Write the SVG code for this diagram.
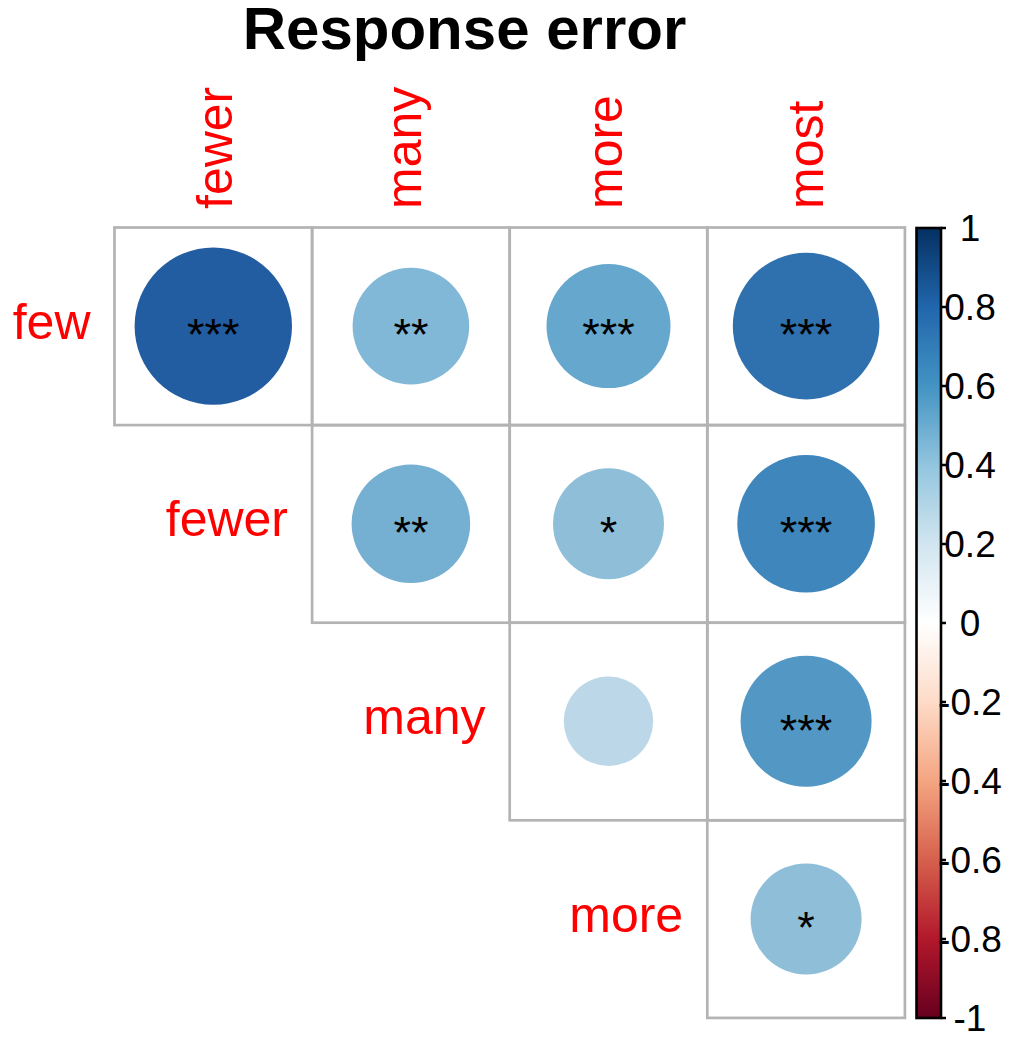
<svg xmlns="http://www.w3.org/2000/svg" width="1011" height="1037" viewBox="0 0 1011 1037">
<style>
.lab{font-family:"Liberation Sans",Arial,sans-serif;font-size:50px;fill:#ff0000}
.star{font-family:"Liberation Sans",Arial,sans-serif;font-size:45px;fill:#000;text-anchor:middle}
.tick{font-family:"Liberation Sans",Arial,sans-serif;font-size:37px;fill:#000;text-anchor:middle}
.cell{fill:none;stroke:#b3b3b3;stroke-width:2.7}
</style>
<defs>
<linearGradient id="rdbu" x1="0" y1="1" x2="0" y2="0">
<stop offset="0" stop-color="#67001F"/>
<stop offset="0.1" stop-color="#B2182B"/>
<stop offset="0.2" stop-color="#D6604D"/>
<stop offset="0.3" stop-color="#F4A582"/>
<stop offset="0.4" stop-color="#FDDBC7"/>
<stop offset="0.5" stop-color="#FFFFFF"/>
<stop offset="0.6" stop-color="#D1E5F0"/>
<stop offset="0.7" stop-color="#92C5DE"/>
<stop offset="0.8" stop-color="#4393C3"/>
<stop offset="0.9" stop-color="#2166AC"/>
<stop offset="1" stop-color="#053061"/>
</linearGradient>
</defs>
<rect width="1011" height="1037" fill="#fff"/>
<text x="464.5" y="49" style="font-family:'Liberation Sans',Arial,sans-serif;font-size:60px;font-weight:bold" text-anchor="middle">Response error</text>
<g id="col-labels">
<text class="lab" transform="translate(231.9,209) rotate(-90)">fewer</text>
<text class="lab" transform="translate(420.5,209) rotate(-90)">many</text>
<text class="lab" transform="translate(621.7,209) rotate(-90)">more</text>
<text class="lab" transform="translate(823.3,209) rotate(-90)">most</text>
</g>
<g id="row-labels" text-anchor="end">
<text class="lab" x="90.5" y="338.8">few</text>
<text class="lab" x="288" y="536.4">fewer</text>
<text class="lab" x="485.6" y="734">many</text>
<text class="lab" x="683.2" y="931.6">more</text>
</g>
<g id="grid">
<rect class="cell" x="114.5" y="227.5" width="197.6" height="197.6"/>
<rect class="cell" x="312.1" y="227.5" width="197.6" height="197.6"/>
<rect class="cell" x="509.7" y="227.5" width="197.6" height="197.6"/>
<rect class="cell" x="707.3" y="227.5" width="197.6" height="197.6"/>
<rect class="cell" x="312.1" y="425.1" width="197.6" height="197.6"/>
<rect class="cell" x="509.7" y="425.1" width="197.6" height="197.6"/>
<rect class="cell" x="707.3" y="425.1" width="197.6" height="197.6"/>
<rect class="cell" x="509.7" y="622.7" width="197.6" height="197.6"/>
<rect class="cell" x="707.3" y="622.7" width="197.6" height="197.6"/>
<rect class="cell" x="707.3" y="820.3" width="197.6" height="197.6"/>
</g>
<g id="few-fewer"><circle cx="213.3" cy="326.1" r="78.7" fill="#225DA1"/><text class="star" x="213.3" y="350.4">***</text></g>
<g id="few-many"><circle cx="410.9" cy="326.1" r="58.3" fill="#82B8D7"/><text class="star" x="410.9" y="350.4">**</text></g>
<g id="few-more"><circle cx="608.5" cy="326.1" r="62" fill="#66A7CD"/><text class="star" x="608.5" y="350.4">***</text></g>
<g id="few-most"><circle cx="806.1" cy="326.1" r="73.3" fill="#2F70AE"/><text class="star" x="806.1" y="350.4">***</text></g>
<g id="fewer-many"><circle cx="410.9" cy="523.7" r="59.3" fill="#75B0D2"/><text class="star" x="410.9" y="548">**</text></g>
<g id="fewer-more"><circle cx="608.5" cy="523.7" r="55.5" fill="#8FBFD8"/><text class="star" x="608.5" y="548">*</text></g>
<g id="fewer-most"><circle cx="806.1" cy="523.7" r="68.8" fill="#3E86BB"/><text class="star" x="806.1" y="548">***</text></g>
<g id="many-more"><circle cx="608.5" cy="721.3" r="44.7" fill="#BCD8E8"/></g>
<g id="many-most"><circle cx="806.1" cy="721.3" r="65.5" fill="#5398C5"/><text class="star" x="806.1" y="745.6">***</text></g>
<g id="more-most"><circle cx="806.1" cy="918.9" r="55.5" fill="#8FBFD8"/><text class="star" x="806.1" y="943.2">*</text></g>
<g id="colorbar">
<rect x="916.5" y="228" width="24.5" height="790" fill="url(#rdbu)" stroke="#000" stroke-width="2.6"/>
<path d="M941 228H946M941 307H946M941 386H946M941 465H946M941 544H946M941 623H946M941 702H946M941 781H946M941 860H946M941 939H946M941 1018H946" stroke="#000" stroke-width="2.6"/>
<text class="tick" x="970" y="241.3">1</text>
<text class="tick" x="970" y="320.3">0.8</text>
<text class="tick" x="970" y="399.3">0.6</text>
<text class="tick" x="970" y="478.3">0.4</text>
<text class="tick" x="970" y="557.3">0.2</text>
<text class="tick" x="970" y="636.3">0</text>
<text class="tick" x="970" y="715.3">-0.2</text>
<text class="tick" x="970" y="794.3">-0.4</text>
<text class="tick" x="970" y="873.3">-0.6</text>
<text class="tick" x="970" y="952.3">-0.8</text>
<text class="tick" x="970" y="1031">-1</text>
</g>
</svg>
